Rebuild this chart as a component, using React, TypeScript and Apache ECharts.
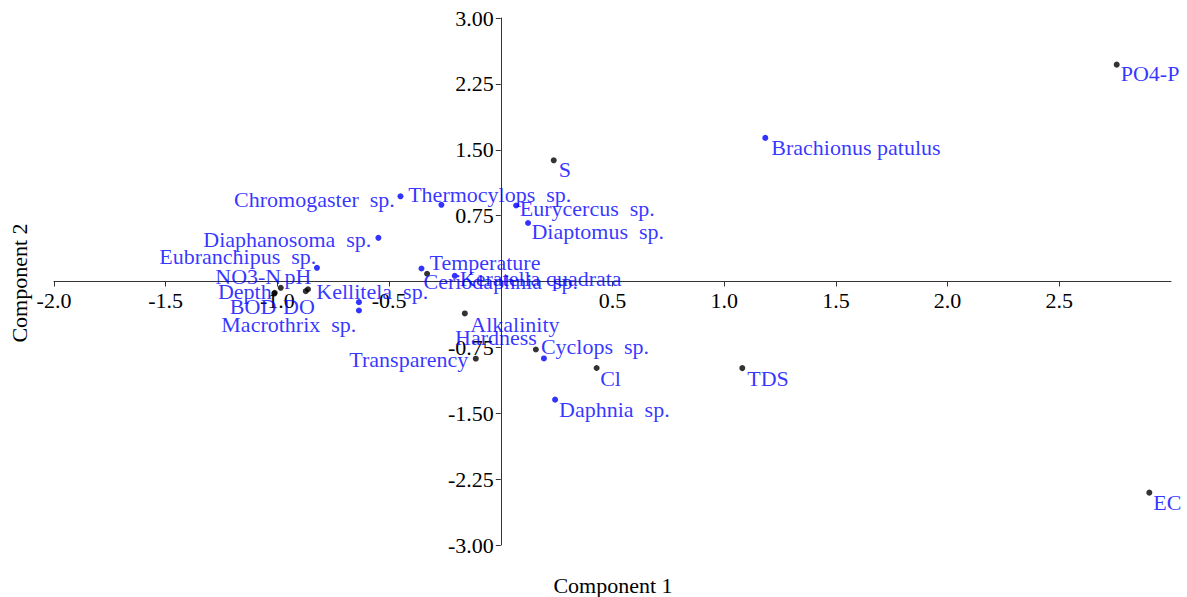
import React, { useEffect, useRef } from 'react';
import * as echarts from 'echarts';

// Environmental variables (black points)
const envNames = ['PO4-P', 'EC', 'TDS', 'S', 'Cl', 'Hardness', 'Transparency', 'Alkalinity', 'Temperature', 'NO3-N', 'pH', 'Depth', 'BOD', 'DO'];
const envX = [2.757, 2.903, 1.081, 0.237, 0.429, 0.157, -0.112, -0.161, -0.330, -0.985, -0.863, -1.012, -1.014, -0.873];
const envY = [2.469, -2.404, -0.986, 1.380, -0.985, -0.774, -0.879, -0.364, 0.088, -0.072, -0.088, -0.129, -0.137, -0.110];

// Zooplankton species (blue points)
const speciesNames = ['Brachionus patulus', 'Daphnia  sp.', 'Cyclops  sp.', 'Ceriodaphnia  sp.', 'Keratella quadrata', 'Eubranchipus  sp.', 'Diaphanosoma  sp.', 'Chromogaster  sp.', 'Thermocylops  sp.', 'Eurycercus  sp.', 'Diaptomus  sp.', 'Kellitela  sp.', 'Macrothrix  sp.'];
const speciesX = [1.184, 0.243, 0.193, -0.355, -0.206, -0.823, -0.548, -0.449, -0.266, 0.0685, 0.122, -0.635, -0.635];
const speciesY = [1.635, -1.345, -0.876, 0.148, 0.065, 0.156, 0.497, 0.970, 0.873, 0.865, 0.666, -0.235, -0.330];

// Axis tick labels
const xTicks = [-2, -1.5, -1, -0.5, 0.5, 1, 1.5, 2, 2.5];
const yTicks = [-3, -2.25, -1.5, -0.75, 0.75, 1.5, 2.25, 3];
const X_MIN = -2;
const X_MAX = 3;
const Y_MIN = -3;
const Y_MAX = 3;

// Label placement (side, dx, dy) — styling only
const labelPlacement: Record<string, [string, number, number]> = {
  'PO4-P': ['r', 1, 9],
  'EC': ['r', 1, 10],
  'TDS': ['r', 2, 10],
  'S': ['r', 2, 9],
  'Cl': ['r', 0.5, 10.5],
  'Hardness': ['l', 4, -12],
  'Transparency': ['l', -4.5, 0.5],
  'Alkalinity': ['r', 2.5, 11],
  'Temperature': ['r', -0.5, -11],
  'NO3-N': ['l', 3.5, -11.6],
  'pH': ['l', 6.5, -13],
  'Depth': ['l', 0, -1],
  'BOD': ['l', 5, 13.3],
  'DO': ['l', 12, 15.6],
  'Brachionus patulus': ['r', 3, 10],
  'Daphnia  sp.': ['r', 1, 10],
  'Cyclops  sp.': ['r', -6, -11.5],
  'Ceriodaphnia  sp.': ['r', -1, 13],
  'Keratella quadrata': ['r', 2, 3],
  'Eubranchipus  sp.': ['l', 2.4, -11.6],
  'Diaphanosoma  sp.': ['l', -4, 1.7],
  'Chromogaster  sp.': ['l', -2.7, 3.3],
  'Thermocylops  sp.': ['r', -36.2, -10.8],
  'Eurycercus  sp.': ['r', 0.7, 2.7],
  'Diaptomus  sp.': ['r', 0.4, 8.8],
  'Kellitela  sp.': ['r', -45.6, -11],
  'Macrothrix  sp.': ['l', 0.4, 14],
};

const FONT = "'Liberation Serif', 'Times New Roman', serif";
const LABEL_BLUE = '#0000ff';
const W = 1187;
const H = 597;
const GRID = { left: 54, right: 16, top: 18, bottom: 52 };

function buildData(names: string[], xs: number[], ys: number[]) {
  return names.map((n, i) => {
    const p = labelPlacement[n] || ['r', 0, 10];
    return {
      name: n,
      value: [xs[i], ys[i]],
      label: { position: p[0] === 'r' ? 'right' : 'left', offset: [p[1], p[2]] },
    };
  });
}

export default function App() {
  const ref = useRef<HTMLDivElement>(null);
  useEffect(() => {
    document.body.style.margin = '0';
    const chart = echarts.init(ref.current!, null, { renderer: 'svg' });
    const gridW = W - GRID.left - GRID.right;
    const gridH = H - GRID.top - GRID.bottom;
    // move axes so that they cross at the origin (labels included)
    const xAxisOffset = -(gridH * (0 - Y_MIN) / (Y_MAX - Y_MIN));
    const yAxisOffset = -(gridW * (0 - X_MIN) / (X_MAX - X_MIN));
    const labelCommon = {
      show: true,
      formatter: '{b}',
      color: LABEL_BLUE,
      fontFamily: FONT,
      fontSize: 22,
      distance: 0,
    };
    chart.setOption({
      animation: false,
      backgroundColor: '#ffffff',
      grid: { ...GRID, containLabel: false, outerBoundsMode: 'none' },
      xAxis: {
        type: 'value',
        position: 'bottom',
        offset: xAxisOffset,
        min: X_MIN,
        max: X_MAX,
        interval: 0.5,
        axisLine: { onZero: false, lineStyle: { color: '#333333', width: 1 } },
        axisTick: { show: true, length: 5, customValues: xTicks, lineStyle: { color: '#333333' } },
        axisLabel: {
          customValues: xTicks,
          formatter: (v: number) => v.toFixed(1),
          color: '#000000',
          fontFamily: FONT,
          fontSize: 22,
          margin: 8,
        },
        splitLine: { show: false },
      },
      yAxis: {
        type: 'value',
        position: 'left',
        offset: yAxisOffset,
        min: Y_MIN,
        max: Y_MAX,
        interval: 0.75,
        axisLine: { onZero: false, lineStyle: { color: '#333333', width: 1 } },
        axisTick: { show: true, length: 5, customValues: yTicks, lineStyle: { color: '#333333' } },
        axisLabel: {
          customValues: yTicks,
          formatter: (v: number) => v.toFixed(2),
          color: '#000000',
          fontFamily: FONT,
          fontSize: 22,
          margin: 7,
        },
        splitLine: { show: false },
      },
      graphic: [
        {
          type: 'text',
          x: 613,
          y: 585,
          style: { text: 'Component 1', font: `22px ${FONT}`, fill: '#000000', align: 'center', verticalAlign: 'middle' },
        },
        {
          type: 'text',
          x: 19,
          y: 283,
          rotation: Math.PI / 2,
          style: { text: 'Component 2', font: `22px ${FONT}`, fill: '#000000', align: 'center', verticalAlign: 'middle' },
        },
      ],
      series: [
        {
          type: 'scatter',
          name: 'Variables',
          symbol: 'circle',
          symbolSize: 6,
          itemStyle: { color: '#000000' },
          label: labelCommon,
          data: buildData(envNames, envX, envY),
          z: 3,
        },
        {
          type: 'scatter',
          name: 'Species',
          symbol: 'circle',
          symbolSize: 6,
          itemStyle: { color: '#0000ff' },
          label: labelCommon,
          data: buildData(speciesNames, speciesX, speciesY),
          z: 3,
        },
      ],
    });
    return () => chart.dispose();
  }, []);
  return <div ref={ref} style={{ width: W, height: H }} />;
}
